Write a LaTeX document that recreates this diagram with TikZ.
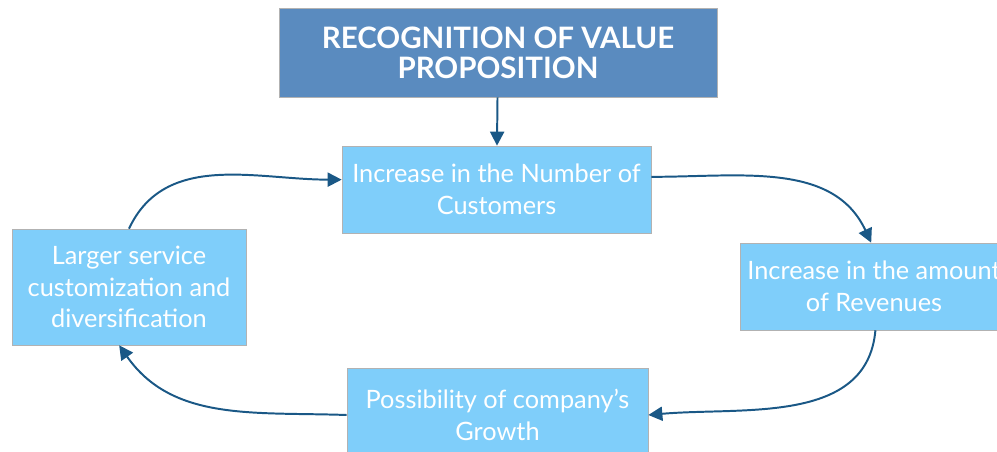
\documentclass[tikz,border=0pt]{standalone}
\usepackage{fontspec}
\setmainfont{Lato}
\usetikzlibrary{positioning}
\usetikzlibrary{arrows.meta}
\definecolor{headblue}{RGB}{90,139,191}
\definecolor{boxblue}{RGB}{127,206,250}
\definecolor{arrowblue}{RGB}{26,88,134}
\tikzset{
    headnode/.style = {rectangle, draw=gray!60, thin, fill=headblue, align=center, text=white, font=\bfseries\fontsize{21}{21.5}\selectfont, inner sep=0pt},
    cyclenode/.style = {rectangle, draw=gray!60, thin, fill=boxblue, align=center, text=white, font=\fontsize{18}{22.5}\selectfont, inner sep=0pt},
    flow/.style = {-{Triangle[length=10pt,width=10pt]}, line width=1.4pt, arrowblue},
}

\begin{document}
\begin{tikzpicture}[x=0.025cm,y=0.025cm]
\useasboundingbox (0,0) rectangle (997,452);
\node[headnode, minimum width=10.95cm, minimum height=2.225cm] at (498,399.5) (head) {RECOGNITION OF VALUE\\PROPOSITION};
\node[cyclenode, minimum width=7.725cm, minimum height=2.175cm] at (496.5,262.5) (cust) {Increase in the Number of\\Customers};
\node[cyclenode, minimum width=6.7cm, minimum height=2.175cm] at (874,165.5) (rev) {Increase in the amount\\of Revenues};
\node[cyclenode, minimum width=7.525cm, minimum height=2.35cm] at (497.5,37) (grow) {Possibility of company's\\Growth};
\node[cyclenode, minimum width=5.85cm, minimum height=2.9cm] at (129,165) (serv) {Larger service\\customization and\\diversification};

\draw[flow] (head) -- (cust);
\draw[flow] ([yshift=9]cust.east) to[out=0,in=115] ([xshift=-2]rev.north);
\draw[flow] ([xshift=1]rev.south) to[out=-95,in=5] ([yshift=-0]grow.east);
\draw[flow] ([yshift=0]grow.west) to[out=178,in=-55] ([xshift=-7]serv.south);
\draw[flow] (serv.north) to[out=65,in=180] ([yshift=7]cust.west);
\end{tikzpicture}
\end{document}
